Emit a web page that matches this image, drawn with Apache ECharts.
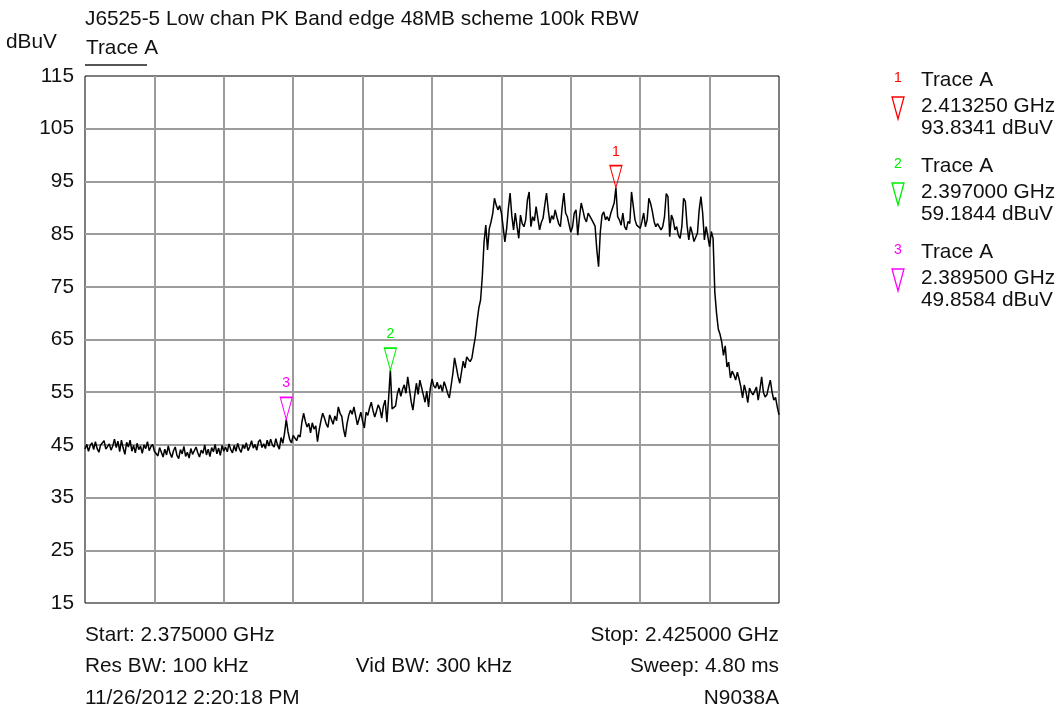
<!DOCTYPE html>
<html>
<head>
<meta charset="utf-8">
<title>J6525-5 Low chan PK Band edge</title>
<script src="https://cdn.jsdelivr.net/npm/echarts@6/dist/echarts.min.js"></script>
<style>
  html, body { margin: 0; padding: 0; background: #fff; }
  #chart { width: 1060px; height: 713px; }
</style>
</head>
<body>
<div id="chart"></div>
<script>
// sweep: 2375 - 2425 MHz, 401 points
const startMHz = 2375
const stopMHz = 2425
const stepMHz = 0.125

// Trace A level (dBuV)
const traceA = [
  44.2, 45.1, 43.8, 44.9, 45.4, 44.1, 45.6, 44.3, 43.6, 45.0, 44.7, 45.8, 44.2, 43.9, 45.2, 44.0, 44.8, 46.1, 44.5, 45.7,
  43.7, 45.9, 44.4, 43.2, 45.5, 44.6, 45.9, 43.8, 44.9, 43.5, 45.3, 44.1, 44.8, 43.4, 45.0, 44.3, 45.6, 43.9, 44.7, 45.1,
  43.8,
  44.0, 42.9, 44.5, 43.6, 42.7, 44.2, 43.1, 44.8, 43.4, 42.6, 43.9, 44.6, 43.0, 42.4, 44.1, 43.3, 44.7, 42.8, 43.6, 42.5,
  44.3, 43.2, 42.9, 44.6, 43.5, 42.7, 44.0, 43.4, 45.0, 43.1, 44.2, 42.8, 44.5, 43.7, 45.1, 43.3, 44.4, 43.0, 44.9, 43.8,
  44.6, 43.7, 45.2, 44.1, 43.5, 44.9, 43.8, 45.3, 44.2, 43.6, 45.0, 44.3, 45.4, 43.9, 44.7, 45.8, 44.4, 45.1, 44.0, 45.6,
  46.0, 44.5, 45.2, 44.3, 45.9, 44.8, 46.1, 45.0, 44.6, 46.2, 44.9, 44.2, 46.4, 45.3, 47.2,
  49.86,
  47.5, 46.0, 45.4, 46.8, 46.3, 45.8, 46.9, 46.5, 49.3, 51.0, 49.5, 48.4, 49.1, 47.3, 49.2, 48.0, 48.6, 45.6, 47.9, 49.6,
  51.0, 50.1, 49.0, 48.3, 50.7, 49.8, 48.9, 50.5, 49.6, 52.2, 51.0, 50.4, 48.0, 46.5, 49.0, 50.6, 51.6, 50.8, 52.2, 50.5,
  48.8, 50.0, 51.2, 49.5, 48.2, 51.2, 50.6, 52.0, 53.1, 51.5, 50.3, 51.4, 52.6, 51.8, 50.1, 52.4, 53.5, 49.3, 53.9, 59.18,
  51.8, 51.6, 52.4, 54.6, 55.8, 54.2, 55.5, 56.4, 54.8, 57.9, 55.6, 53.2, 51.6, 54.3, 56.7, 54.6, 57.3, 55.9, 54.5, 53.1,
  55.2, 52.2, 55.7, 57.5, 56.2, 55.8, 56.9, 55.6, 56.4, 55.1, 57.0, 56.0, 54.8, 53.9, 54.2, 58.5, 61.5, 59.8, 58.0, 56.7,
  58.8, 60.9, 59.6, 61.7, 61.2, 60.8, 61.5, 63.6, 65.5, 68.5, 71.0, 72.5, 77.0, 83.5, 86.7, 82.0, 86.0, 87.3, 88.9, 91.8,
  90.5, 89.6, 90.4, 89.0,
  86.4, 83.5, 86.0, 89.8, 92.8, 88.5, 85.8, 89.0, 86.5, 84.2, 88.6, 87.0, 86.4, 87.7, 91.5, 93.0, 86.4, 88.3, 87.5, 90.2,
  88.0, 85.8, 87.2, 88.0, 90.5, 92.8, 89.6, 87.1, 88.5, 87.8, 89.6, 88.2, 87.0, 86.4, 90.0, 92.8, 89.0, 88.3, 86.8, 85.4,
  86.4, 89.0, 89.6, 84.8, 88.2, 90.9, 89.5, 88.0, 87.3, 89.0, 89.2, 87.8, 88.0, 86.5, 82.0, 78.8, 85.4, 88.6, 89.2, 87.7,
  88.3, 87.5, 88.9, 89.2, 90.9, 93.83,
  88.3, 87.7, 86.7, 89.0, 86.4, 85.8, 87.4, 87.0, 93.0, 92.7, 87.7, 86.7, 86.4, 86.1, 87.4, 89.0, 86.4, 87.7, 91.8, 90.8,
  89.3, 87.4, 86.4, 87.0, 87.0, 85.8, 86.4, 88.3, 92.7, 92.1, 84.5, 88.6, 87.7, 85.8, 86.4, 84.8, 84.2, 86.4, 91.8, 91.2,
  86.7, 83.9, 86.4, 85.2, 83.6, 83.3, 85.2, 89.6, 92.1, 89.0, 83.9, 86.4, 86.1, 82.6, 85.5, 84.2,
  74.0, 70.0, 67.0, 66.0, 64.5, 62.0, 63.8, 59.8, 60.7, 57.7, 59.0, 58.3, 57.3, 58.8, 57.5, 56.0, 53.9, 56.4, 55.0, 53.0,
  55.8, 55.0, 54.5, 55.2, 56.0, 53.5, 55.5, 57.9, 55.0, 54.1, 54.5, 56.0, 57.3, 55.0, 53.5, 54.0, 52.2, 50.7
]

// markers
const markerFreqs = [2413.25, 2397.0, 2389.5]
const markerLevels = [93.8341, 59.1844, 49.8584]
const markerColors = ['#ff0000', '#00ee00', '#ff00ff']

// footer text
const footerRows = [
  ['Start: 2.375000 GHz', '', 'Stop: 2.425000 GHz'],
  ['Res BW: 100 kHz', 'Vid BW: 300 kHz', 'Sweep: 4.80 ms'],
  ['11/26/2012 2:20:18 PM', '', 'N9038A']
]

const FONT = '"Liberation Sans", Arial, sans-serif'
const TXT = '#111'
const textFont = `20.8px ${FONT}`

const chart = echarts.init(document.getElementById('chart'))

const seriesData = traceA.map((v, i) => [startMHz + i * stepMHz, v])

const txt = (text, x, y, align, extra) => ({
  type: 'text',
  x,
  y,
  silent: true,
  style: Object.assign({
    text,
    font: textFont,
    fill: TXT,
    align,
    textAlign: align,
    verticalAlign: 'middle',
    textVerticalAlign: 'middle'
  }, extra || {})
})

const graphic = [
  txt('J6525-5 Low chan PK Band edge 48MB scheme 100k RBW', 85, 19, 'left'),
  txt('dBuV', 6, 42, 'left'),
  txt('Trace A', 86, 48, 'left'),
  {
    type: 'line',
    silent: true,
    shape: { x1: 85, y1: 65, x2: 147, y2: 65 },
    style: { stroke: '#555', lineWidth: 2 }
  }
]

// footer rows
footerRows.forEach((row, r) => {
  const y = 635 + r * 31.5
  if (row[0]) graphic.push(txt(row[0], 85, y, 'left'))
  if (row[1]) graphic.push(txt(row[1], 434, y, 'center'))
  if (row[2]) graphic.push(txt(row[2], 779, y, 'right'))
})

// marker table on the right
markerFreqs.forEach((f, i) => {
  const y0 = 80 + i * 86
  graphic.push(txt(String(i + 1), 898, y0 - 2, 'center', { font: `14px ${FONT}`, fill: markerColors[i] }))
  graphic.push({
    type: 'polygon',
    silent: true,
    shape: { points: [[892, 97 + i * 86], [904, 97 + i * 86], [898, 119 + i * 86]] },
    style: { fill: 'none', stroke: markerColors[i], lineWidth: 1.3 }
  })
  graphic.push(txt('Trace A', 921, y0, 'left'))
  graphic.push(txt((f / 1000).toFixed(6) + ' GHz', 921, y0 + 26, 'left'))
  graphic.push(txt(markerLevels[i].toFixed(4) + ' dBuV', 921, y0 + 48, 'left'))
})

const gridLine = { color: '#9c9c9c', width: 2 }

const option = {
  animation: false,
  backgroundColor: '#fff',
  textStyle: { fontFamily: FONT },
  grid: {
    left: 85,
    right: 281,
    top: 76,
    bottom: 110,
    show: true,
    borderColor: '#000',
    borderWidth: 1
  },
  xAxis: {
    type: 'value',
    min: startMHz,
    max: stopMHz,
    interval: 5,
    axisLine: { show: false },
    axisTick: { show: false },
    axisLabel: { show: false },
    splitLine: { show: true, showMinLine: false, showMaxLine: false, lineStyle: gridLine }
  },
  yAxis: {
    type: 'value',
    min: 15,
    max: 115,
    interval: 10,
    axisLine: { show: false },
    axisTick: { show: false },
    axisLabel: { color: TXT, fontSize: 20.8, margin: 11, fontFamily: FONT },
    splitLine: { show: true, showMinLine: false, showMaxLine: false, lineStyle: gridLine }
  },
  series: [
    {
      name: 'Trace A',
      type: 'line',
      data: seriesData,
      symbol: 'none',
      showSymbol: false,
      lineStyle: { color: '#000', width: 1.5 },
      markPoint: {
        symbol: 'path://M0,0 L12,0 L6,22 Z',
        symbolSize: [12, 22],
        symbolOffset: [0, -11],
        silent: true,
        data: markerFreqs.map((f, i) => ({
          coord: [f, markerLevels[i]],
          itemStyle: { color: 'rgba(0,0,0,0)', borderColor: markerColors[i], borderWidth: 1.3 },
          label: {
            show: true,
            position: 'top',
            distance: 6,
            formatter: String(i + 1),
            color: markerColors[i],
            fontSize: 14,
            fontFamily: FONT
          }
        }))
      }
    }
  ],
  graphic
}

chart.setOption(option)
</script>
</body>
</html>
